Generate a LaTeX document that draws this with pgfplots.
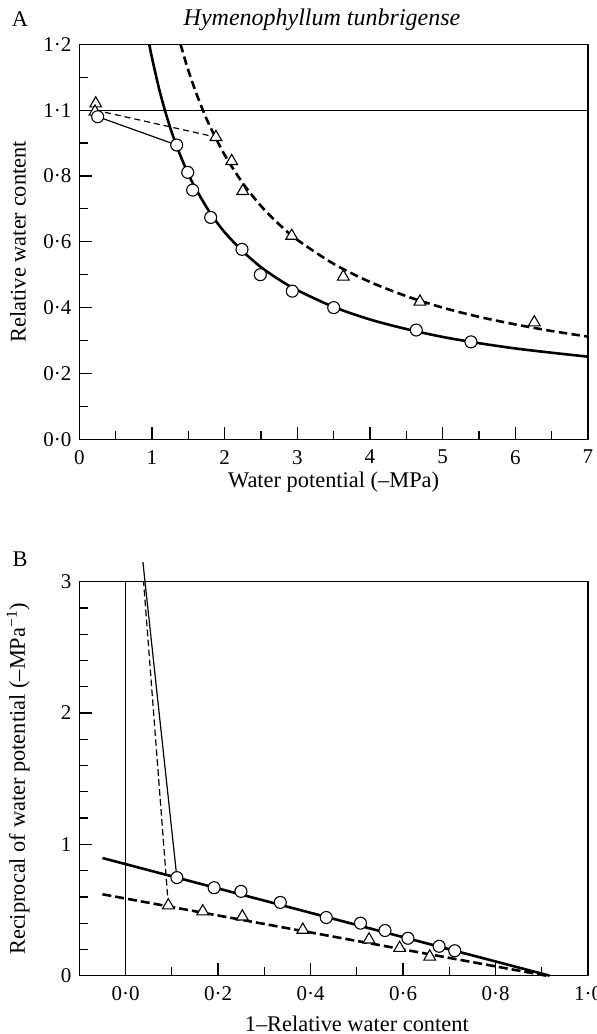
\documentclass[border=0pt]{standalone}
\usepackage{fontspec}
\setmainfont{Liberation Serif}
\usepackage{pgfplots}
\pgfplotsset{compat=1.18}

\pgfplotsset{
  fernaxis/.style={
    scale only axis, width=254.35pt,
    tick align=inside, xtick pos=bottom, ytick pos=left,
    major tick length=6.25pt, minor tick length=4.25pt,
    axis line style={line width=0.75pt},
    every tick/.style={black, line width=0.6pt},
    tick label style={font=\fontsize{10.5}{12}\selectfont},
    x tick label style={yshift=-1.5pt},
    label style={font=\fontsize{11.2}{13}\selectfont},
    clip=false,
    every axis y label/.style={at={(axis description cs:-0.1205,0.5)}, rotate=90, anchor=center},
  },
  thin/.style={black, line width=0.6pt},
  thick/.style={black, line width=1.3pt},
  circ/.style={only marks, mark=*, mark size=3pt, mark options={fill=white, draw=black, line width=0.55pt}},
  tri/.style={only marks, mark=triangle*, mark size=3.4pt, mark options={fill=white, draw=black, line width=0.55pt}},
}

\begin{document}
\fontsize{11.2}{13}\selectfont
\begin{tikzpicture}

\node at (10pt,507.5pt) {A};
\node at (161pt,507pt) {\fontsize{12}{14}\selectfont\itshape Hymenophyllum tunbrigense};
\node at (10pt,237.5pt) {B};

% A: relative water content against water potential
\begin{axis}[fernaxis,
  at={(39.65pt,297.35pt)}, anchor=south west, height=197.5pt,
  xmin=0, xmax=7, ymin=0, ymax=1.2,
  xtick={0,1,2,3,4,5,6,7}, xticklabels={0,1,2,3,4,5,6,7},
  ytick={0,0.2,0.4,0.6,0.8,1.0,1.2},
  yticklabels={0·0,0·2,0·4,0·6,0·8,1·1,1·2},
  minor x tick num=1, minor y tick num=1,
  xlabel={Water potential (–MPa)},
  every axis x label/.style={at={(axis description cs:0.5,-0.108)}, anchor=center},
  ylabel={Relative water content},
]
\addplot[thin] coordinates {(0,1.0) (7,1.0)};
\addplot[thin] coordinates {(0.253,0.980) (1.340,0.894)};
\addplot[thin, dash pattern=on 3pt off 2pt] coordinates {(0.22,1.0) (1.88,0.918)};
\addplot[thick, smooth] coordinates {
  (0.963,1.2) (1.0,1.159) (1.1,1.063) (1.2,0.983) (1.3,0.915) (1.4,0.857)
  (1.5,0.806) (1.6,0.762) (1.8,0.688) (2.0,0.629) (2.25,0.571) (2.5,0.523)
  (2.75,0.485) (3.0,0.453) (3.5,0.402) (4.0,0.364) (4.5,0.335) (5.0,0.311)
  (5.5,0.292) (6.0,0.276) (6.5,0.263) (7.0,0.251)
};
\addplot[thick, smooth, dash pattern=on 4.2pt off 2.2pt] coordinates {
  (1.393,1.2) (1.45,1.157) (1.5,1.121) (1.6,1.057) (1.7,1.0) (1.8,0.950)
  (2.0,0.864) (2.25,0.778) (2.5,0.709) (2.75,0.653) (3.0,0.606) (3.5,0.533)
  (4.0,0.478) (4.5,0.435) (5.0,0.400) (5.5,0.372) (6.0,0.349) (6.5,0.329)
  (7.0,0.312)
};
\addplot[tri] coordinates {
  (0.226,1.02) (0.216,0.995) (1.88,0.918) (2.097,0.845) (2.249,0.754)
  (2.923,0.618) (3.633,0.494) (4.688,0.418) (6.261,0.355)
};
\addplot[circ] coordinates {
  (0.253,0.980) (1.340,0.894) (1.492,0.811) (1.560,0.757) (1.808,0.674)
  (2.239,0.577) (2.491,0.500) (2.931,0.450) (3.501,0.400) (4.637,0.332)
  (5.390,0.296)
};
\end{axis}

% B: reciprocal of water potential against 1 - RWC
\begin{axis}[fernaxis,
  at={(39.65pt,29.15pt)}, anchor=south west, height=197pt,
  xmin=-0.1, xmax=1.0, ymin=0, ymax=3,
  xtick={0,0.2,0.4,0.6,0.8,1.0}, xticklabels={0·0,0·2,0·4,0·6,0·8,1·0},
  ytick={0,1,2,3}, yticklabels={0,1,2,3},
  minor x tick num=1, minor y tick num=4,
  xlabel={1–Relative water content},
  every axis x label/.style={at={(axis description cs:0.5455,-0.1226)}, anchor=center},
  ylabel={Reciprocal of water potential (–MPa\textsuperscript{−1})},
]
\addplot[thin] coordinates {(0,0) (0,3)};
\addplot[thin] coordinates {(0.111,0.747) (0.0375,3.15)};
\addplot[thin, dash pattern=on 3.3pt off 1.7pt] coordinates {(0.0925,0.535) (0.039,3.0)};
\addplot[thick] coordinates {(-0.05,0.896) (0.917,0)};
\addplot[thick, dash pattern=on 4.5pt off 2pt] coordinates {(-0.05,0.620) (0.91,0)};
\addplot[tri] coordinates {
  (0.0925,0.535) (0.1669,0.489) (0.2525,0.450) (0.3833,0.349)
  (0.5265,0.275) (0.5927,0.211) (0.6578,0.145)
};
\addplot[circ] coordinates {
  (0.111,0.747) (0.1915,0.670) (0.2496,0.642) (0.3346,0.558) (0.434,0.443)
  (0.508,0.400) (0.561,0.344) (0.6106,0.285) (0.678,0.224) (0.7118,0.190)
};
\end{axis}

\pgfresetboundingbox
\path[use as bounding box] (0,0) rectangle (298.5pt,517pt);
\end{tikzpicture}
\end{document}
